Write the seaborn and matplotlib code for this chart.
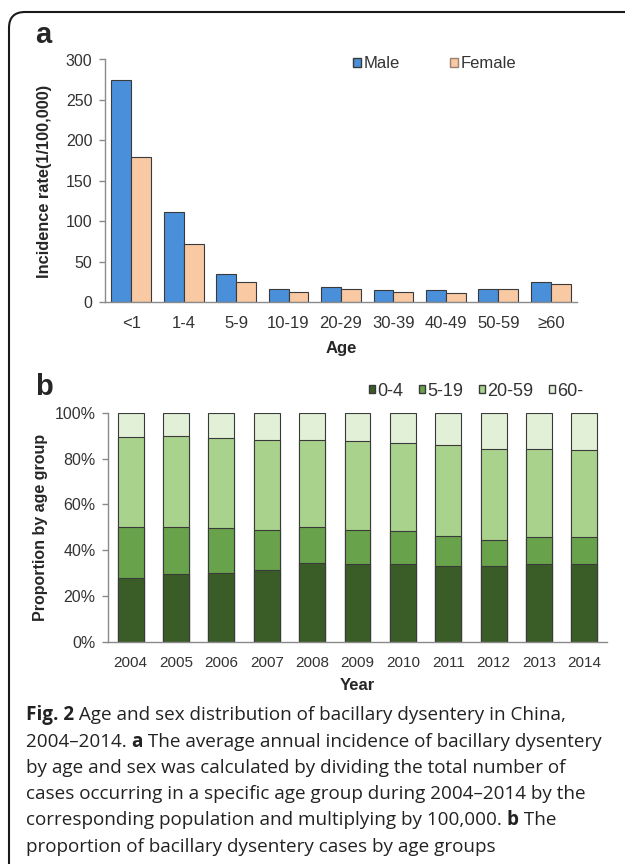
import numpy as np
import pandas as pd
import matplotlib
matplotlib.use("Agg")
import matplotlib.pyplot as plt
import seaborn as sns
from matplotlib.patches import FancyBboxPatch, Patch
from matplotlib.transforms import IdentityTransform
from matplotlib.ticker import FixedLocator, PercentFormatter

# ── Panel a: incidence by age and sex ───────────────────────
age_groups = ["<1", "1-4", "5-9", "10-19", "20-29", "30-39", "40-49", "50-59", "≥60"]
male_rate = [275, 112, 35.5, 17, 18.5, 15.5, 15, 16, 24.5]
female_rate = [180, 72, 25, 12.5, 16, 12.5, 12, 16, 22.5]

# ── Panel b: proportion by age group per year (%) ───────────
years = ["2004", "2005", "2006", "2007", "2008", "2009", "2010", "2011", "2012", "2013", "2014"]
group_names = ["0-4", "5-19", "20-59", "60-"]
share_0_4 = [28.1, 29.7, 30.1, 31.3, 34.5, 33.9, 34.2, 33.2, 33.2, 34.2, 34.2]
share_5_19 = [22.0, 20.6, 19.6, 17.7, 15.6, 15.1, 14.2, 13.0, 11.4, 11.6, 11.6]
share_20_59 = [39.5, 39.4, 39.3, 39.3, 38.2, 38.5, 38.6, 39.6, 39.6, 38.4, 37.8]
share_60 = [10.4, 10.3, 11.0, 11.7, 11.7, 12.5, 13.0, 14.2, 15.8, 15.8, 16.4]

caption_lines = [
    [("Fig. 2", True), (" Age and sex distribution of bacillary dysentery in China,", False)],
    [("2004–2014. ", False), ("a", True), (" The average annual incidence of bacillary dysentery", False)],
    [("by age and sex was calculated by dividing the total number of", False)],
    [("cases occurring in a specific age group during 2004–2014 by the", False)],
    [("corresponding population and multiplying by 100,000. ", False), ("b", True), (" The", False)],
    [("proportion of bacillary dysentery cases by age groups", False)],
]

sns.set_style("white")
plt.rcParams["font.family"] = ["Liberation Sans", "DejaVu Sans"]

W, H = 625, 864
fig = plt.figure(figsize=(W / 100, H / 100), dpi=100)

def px_axes(left, top, right, bottom):
    return fig.add_axes([left / W, 1 - bottom / H, (right - left) / W, (bottom - top) / H])

spine_c = "#8a8a8a"
text_c = "#333333"
edge_c = "#3a3a3a"

def style_axes(ax, n):
    sns.despine(ax=ax)
    for s in ("left", "bottom"):
        ax.spines[s].set_color(spine_c)
        ax.spines[s].set_linewidth(1.0)
    ax.set_xlim(-0.5, n - 0.5)
    ax.xaxis.set_minor_locator(FixedLocator(np.arange(n + 1) - 0.5))
    ax.tick_params(axis="x", which="major", length=0, pad=10, labelsize=12, labelcolor=text_c)
    ax.tick_params(axis="x", which="minor", length=4, width=1, color=spine_c, direction="out")
    ax.tick_params(axis="y", which="major", length=4, width=1, color=spine_c, direction="out",
                   labelsize=11.5, labelcolor=text_c, left=True, pad=5)

# ── Panel a ────────────────────────────────────────────────
ax_a = px_axes(105, 59.5, 577, 302.3)
df_a = pd.DataFrame({
    "Age": age_groups * 2,
    "Sex": ["Male"] * len(age_groups) + ["Female"] * len(age_groups),
    "Rate": male_rate + female_rate,
})
male_c, female_c = "#4a8fd9", "#f9c9a4"
sns.barplot(data=df_a, x="Age", y="Rate", hue="Sex", palette=[male_c, female_c],
            saturation=1, width=0.76, edgecolor=edge_c, linewidth=0.8, legend=False, ax=ax_a)
ax_a.set_ylim(0, 300)
ax_a.set_yticks(np.arange(0, 301, 50))
style_axes(ax_a, len(age_groups))
ax_a.set_xlabel("Age", fontsize=12, fontweight="bold", labelpad=7)
ax_a.set_ylabel("Incidence rate(1/100,000)", fontsize=11.8, fontweight="bold", labelpad=10)
leg_a = ax_a.legend(handles=[Patch(facecolor=male_c, edgecolor=edge_c, label="Male"),
                             Patch(facecolor=female_c, edgecolor="#9a8070", label="Female")],
                    ncol=2, frameon=False, fontsize=12, handlelength=0.5, handleheight=0.5,
                    handletextpad=0.15, columnspacing=3.0, borderpad=0, borderaxespad=0,
                    loc="center left", bbox_to_anchor=((353 - 105) / 472, (302.3 - 64) / 242.8))
for t in leg_a.get_texts():
    t.set_color(text_c)

# ── Panel b ────────────────────────────────────────────────
ax_b = px_axes(108, 412.7, 607, 642)
shares = np.array([share_0_4, share_5_19, share_20_59, share_60])
cum = np.cumsum(shares, axis=0)
green_cs = ["#3a5d27", "#68a24a", "#a9d28c", "#e2f0d7"]
for i in range(len(group_names) - 1, -1, -1):
    sns.barplot(x=years, y=cum[i], color=green_cs[i], saturation=1, width=0.57,
                edgecolor=edge_c, linewidth=0.8, ax=ax_b)
ax_b.set_ylim(0, 100)
ax_b.set_yticks(np.arange(0, 101, 20))
ax_b.yaxis.set_major_formatter(PercentFormatter(decimals=0))
style_axes(ax_b, len(years))
ax_b.tick_params(axis="x", labelsize=11, pad=10)
ax_b.set_xlabel("Year", fontsize=12, fontweight="bold", labelpad=6)
ax_b.set_ylabel("Proportion by age group", fontsize=11.5, fontweight="bold", labelpad=5)
leg_b = ax_b.legend(handles=[Patch(facecolor=c, edgecolor=edge_c, label=g)
                             for c, g in zip(green_cs, group_names)],
                    ncol=4, frameon=False, fontsize=13, handlelength=0.35, handleheight=0.35,
                    handletextpad=0.12, columnspacing=0.85, borderpad=0, borderaxespad=0,
                    loc="center left", bbox_to_anchor=((369 - 108) / 499, (642 - 391) / 229.3))
for t in leg_b.get_texts():
    t.set_color(text_c)

# ── panel letters ──────────────────────────────────────────
fig.text(35 / W, 1 - 43 / H, "a", fontsize=21, fontweight="bold", va="baseline")
fig.text(35 / W, 1 - 395 / H, "b", fontsize=21, fontweight="bold", va="baseline")

# ── rounded frame (top and left edges) ─────────────────────
frame = FancyBboxPatch((9, -100), 1200, H - 12 + 100,
                       boxstyle="round,pad=0,rounding_size=16",
                       transform=IdentityTransform(), facecolor="none",
                       edgecolor="#1a1a1a", linewidth=1.5)
fig.patches.append(frame)

# ── caption ────────────────────────────────────────────────
renderer = fig.canvas.get_renderer()
cap_family = ["Open Sans", "DejaVu Sans"]
baselines = [720, 747, 773, 799, 825, 852]
for segs, yb in zip(caption_lines, baselines):
    x = 26
    for txt, bold in segs:
        t = fig.text(x / W, 1 - yb / H, txt, fontsize=13.6, family=cap_family,
                     fontweight="bold" if bold else "normal", color="#222222", va="baseline")
        x += t.get_window_extent(renderer).width

fig.savefig("out.png", dpi=100)
